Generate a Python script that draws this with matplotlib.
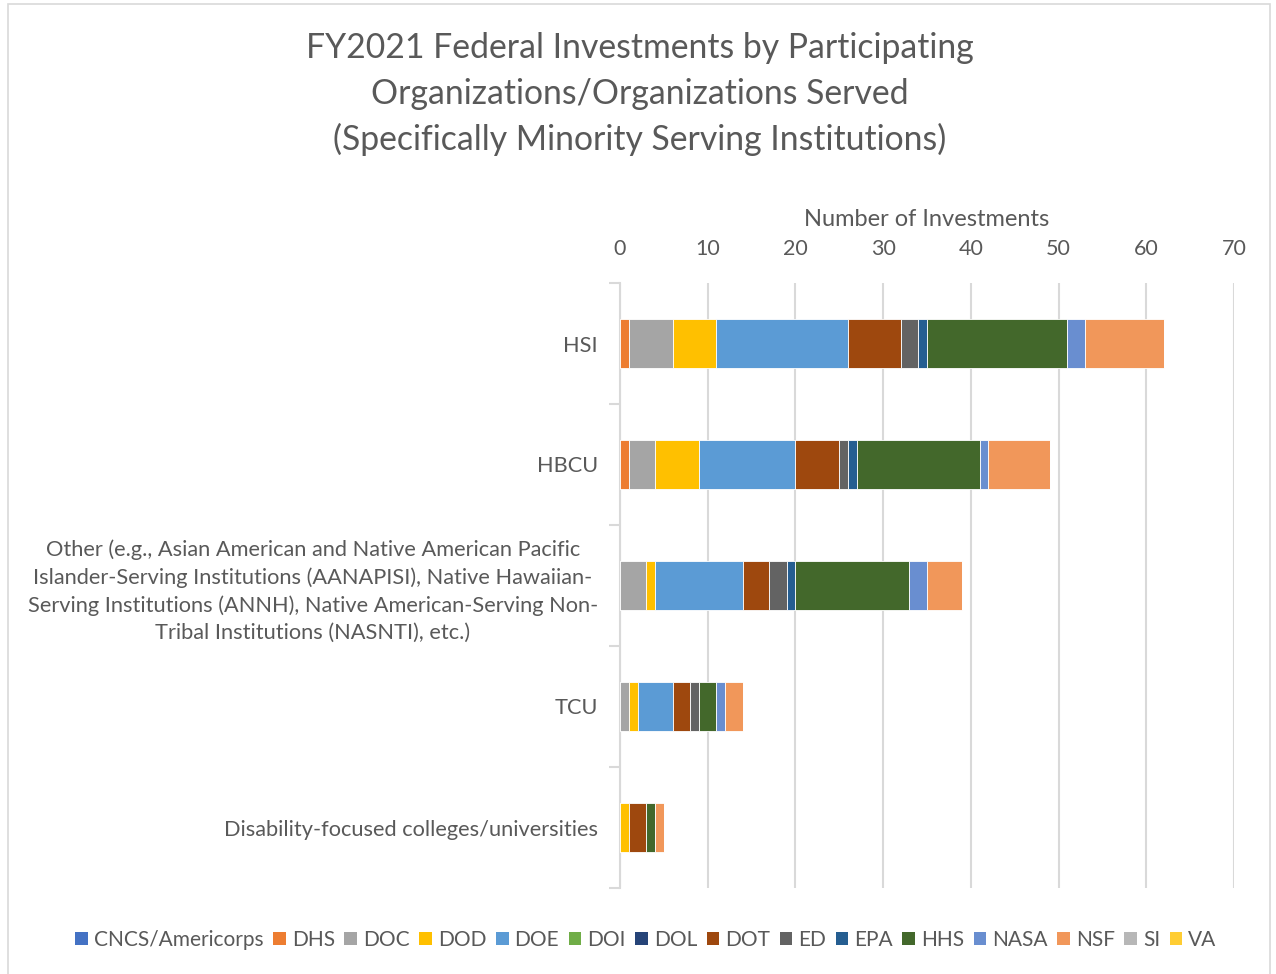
import matplotlib
matplotlib.use("Agg")
import matplotlib.pyplot as plt
from matplotlib.patches import Patch, Rectangle
import numpy as np

plt.rcParams['font.family'] = ['Lato', 'DejaVu Sans']

categories = ["HSI", "HBCU",
              "Other (e.g., Asian American and Native American Pacific\n"
              "Islander-Serving Institutions (AANAPISI), Native Hawaiian-\n"
              "Serving Institutions (ANNH), Native American-Serving Non-\n"
              "Tribal Institutions (NASNTI), etc.)",
              "TCU", "Disability-focused colleges/universities"]

agencies = ["CNCS/Americorps", "DHS", "DOC", "DOD", "DOE", "DOI", "DOL",
            "DOT", "ED", "EPA", "HHS", "NASA", "NSF", "SI", "VA"]

CNCS = [0, 0, 0, 0, 0]
DHS = [1, 1, 0, 0, 0]
DOC = [5, 3, 3, 1, 0]
DOD = [5, 5, 1, 1, 1]
DOE = [15, 11, 10, 4, 0]
DOI = [0, 0, 0, 0, 0]
DOL = [0, 0, 0, 0, 0]
DOT = [6, 5, 3, 2, 2]
ED = [2, 1, 2, 1, 0]
EPA = [1, 1, 1, 0, 0]
HHS = [16, 14, 13, 2, 1]
NASA = [2, 1, 2, 1, 0]
NSF = [9, 7, 4, 2, 1]
SI = [0, 0, 0, 0, 0]
VA = [0, 0, 0, 0, 0]

series = [CNCS, DHS, DOC, DOD, DOE, DOI, DOL, DOT, ED, EPA, HHS, NASA, NSF, SI, VA]
colors = ["#4472C4", "#ED7D31", "#A5A5A5", "#FFC000", "#5B9BD5", "#70AD47",
          "#264478", "#9E480E", "#636363", "#255E91", "#43682B", "#698ED0",
          "#F1975A", "#B7B7B7", "#FFCD33"]

txt = "#595959"
fig = plt.figure(figsize=(12.76, 9.74), dpi=100)
fig.patches.append(Rectangle((8/1276, -0.01), 1262/1276, 1 - 4/974 + 0.01,
                             transform=fig.transFigure, fill=False,
                             edgecolor="#D9D9D9", linewidth=1.2))

ax = fig.add_axes([620/1276, 1 - 888/974, 614/1276, 605/974])
y = np.arange(len(categories))
left = np.zeros(len(categories))
for name, vals, c in zip(agencies, series, colors):
    v = np.array(vals, dtype=float)
    ax.barh(y, v, left=left, height=0.4, color=c, edgecolor="white",
            linewidth=0.6, zorder=3)
    left += v

ax.set_xlim(0, 70)
ax.set_ylim(len(categories) - 0.5, -0.5)
ax.set_xticks(np.arange(0, 71, 10))
ax.xaxis.tick_top()
ax.xaxis.set_label_position("top")
ax.tick_params(axis='x', length=0, labelsize=15.5, labelcolor=txt, pad=17)
ax.set_xlabel("Number of Investments", fontsize=17, color=txt, labelpad=10)
ax.grid(axis='x', color="#D9D9D9", linewidth=1.5, zorder=0)

ax.set_yticks(y)
ax.set_yticklabels(categories, fontsize=15.7, color=txt,
                   multialignment='center', linespacing=1.45)
ax.tick_params(axis='y', length=0, pad=16)
ax.set_yticks(np.arange(-0.5, len(categories), 1), minor=True)
ax.tick_params(axis='y', which='minor', length=8, color="#D9D9D9", width=1.5)
for s in ["top", "right", "bottom"]:
    ax.spines[s].set_visible(False)
ax.spines["left"].set_color("#D9D9D9")
ax.spines["left"].set_linewidth(1.5)

fig.text(640/1276, 1 - 48/974, "FY2021 Federal Investments by Participating",
         ha='center', va='center', fontsize=24.3, color=txt)
fig.text(640/1276, 1 - 94/974, "Organizations/Organizations Served",
         ha='center', va='center', fontsize=24.3, color=txt)
fig.text(640/1276, 1 - 139/974, "(Specifically Minority Serving Institutions)",
         ha='center', va='center', fontsize=24.3, color=txt)

handles = [Patch(facecolor=c, edgecolor='none', label=n) for n, c in zip(agencies, colors)]
leg = fig.legend(handles=handles, loc='center', bbox_to_anchor=(646/1276, 1 - 940/974),
                 ncol=15, frameon=False, fontsize=15, handlelength=0.62,
                 handleheight=0.62, handletextpad=0.28, columnspacing=0.45,
                 labelcolor=txt)

fig.savefig("out.png", dpi=100)
